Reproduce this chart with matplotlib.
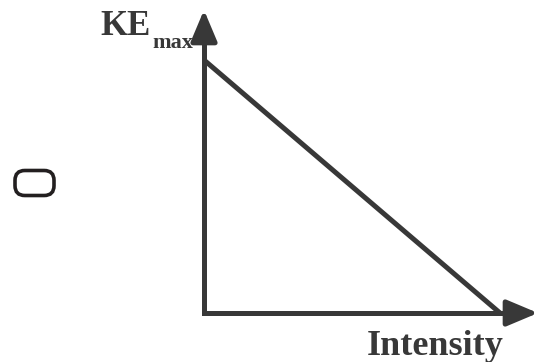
import matplotlib
matplotlib.use("Agg")
import matplotlib.pyplot as plt
from matplotlib.patches import FancyBboxPatch

# Conceptual data: max kinetic energy vs intensity (falls linearly to zero).
intensity = [0.0, 1.0]
ke_max = [1.0, 0.0]

W, H = 545, 362
ink = "#383838"

fig = plt.figure(figsize=(W / 100, H / 100), dpi=100)

# Axes origin sits at pixel (204, 313); line reaches x-axis at 500, y-axis at 60.
ox, oy = 204, 313
ax = fig.add_axes([ox / W, (H - oy) / H, (500 - ox) / W, (oy - 60) / H])
ax.set_xlim(0, 1)
ax.set_ylim(0, 1)
ax.axis("off")

ax.plot(intensity, ke_max, color=ink, lw=3.6, solid_capstyle="butt", clip_on=False)

# Axis lines (one polyline, square corner) plus arrow heads at the ends.
x_tip = (538 - ox) / (500 - ox)
y_tip = (oy - 10) / (oy - 60)
ax.plot([0, 0, x_tip - 0.05], [y_tip - 0.05, 0, 0], color=ink, lw=3.6,
        solid_joinstyle="miter", solid_capstyle="butt", clip_on=False)
arrow = dict(arrowstyle="-|>,head_length=0.95,head_width=0.4", color=ink,
             lw=3.6, mutation_scale=20, shrinkA=0, shrinkB=0)
ax.annotate("", xy=(0, y_tip), xytext=(0, y_tip - 0.065),
            arrowprops=arrow, annotation_clip=False)
ax.annotate("", xy=(x_tip, 0), xytext=(x_tip - 0.065, 0),
            arrowprops=arrow, annotation_clip=False)

# Axis labels.
serif = ["Liberation Serif", "DejaVu Serif"]
fig.text(100 / W, 1 - 35 / H, "KE", fontsize=25, fontweight="bold",
         family=serif, color=ink, ha="left", va="baseline")
fig.text(152 / W, 1 - 48 / H, "max", fontsize=16, fontweight="bold",
         family=serif, color=ink, ha="left", va="baseline")
fig.text(504 / W, 1 - 355 / H, "Intensity", fontsize=26, fontweight="bold",
         family=serif, color=ink, ha="right", va="baseline")

# Empty answer option box on the left.
box = FancyBboxPatch((15 / W, 1 - 195.5 / H), 39 / W, 25 / H,
                     boxstyle="round,pad=0,rounding_size=0.018",
                     transform=fig.transFigure, fill=False,
                     edgecolor="#231f20", lw=2.6, mutation_aspect=W / H)
fig.patches.append(box)

fig.savefig("out.png", dpi=100)
